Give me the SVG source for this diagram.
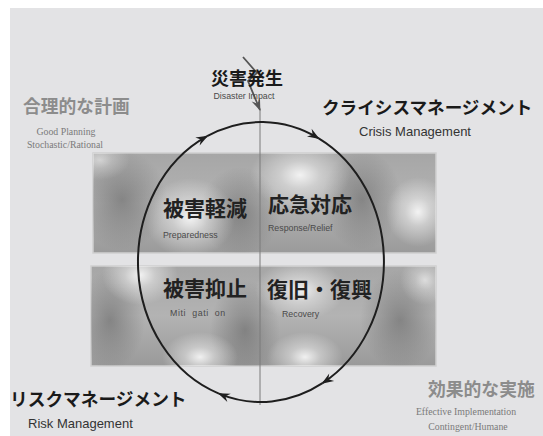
<svg xmlns="http://www.w3.org/2000/svg" width="543" height="436" viewBox="0 0 543 436">
<defs>
<style>
.jp{font-family:"Noto Sans CJK JP","Noto Sans",sans-serif;font-weight:bold;}
.jpg{font-family:"Noto Sans CJK JP","Noto Sans",sans-serif;font-weight:bold;fill:#8c8c8c;}
.en{font-family:"Liberation Sans","DejaVu Sans",sans-serif;fill:#333;}
.ens{font-family:"Liberation Sans","DejaVu Sans",sans-serif;fill:#4a4a4a;font-size:8.8px;}
.ser{font-family:"Liberation Serif","DejaVu Serif",serif;fill:#7a7a7a;font-size:9.8px;}
.cyc{fill:none;stroke:#1e1e1e;stroke-width:2;marker-end:url(#ah);}
.box{stroke:#d0d0d0;stroke-width:1.5;}
</style>
<marker id="ah" viewBox="-12 -5 13 10" refX="0" refY="0" markerWidth="13" markerHeight="10" markerUnits="userSpaceOnUse" orient="auto">
<path d="M1,0 L-11,-4.5 L-7,0 L-11,4.5 z" fill="#1e1e1e"/>
</marker>
<marker id="ah2" viewBox="-12 -5 13 10" refX="0" refY="0" markerWidth="13" markerHeight="10" markerUnits="userSpaceOnUse" orient="auto">
<path d="M1,0 L-11,-4.5 L-7,0 L-11,4.5 z" fill="#555"/>
</marker>
<radialGradient id="hl">
<stop offset="0" stop-color="#ffffff" stop-opacity="0.85"/>
<stop offset="0.4" stop-color="#ffffff" stop-opacity="0.4"/>
<stop offset="1" stop-color="#ffffff" stop-opacity="0"/>
</radialGradient>
<radialGradient id="dk">
<stop offset="0" stop-color="#606060" stop-opacity="0.55"/>
<stop offset="1" stop-color="#606060" stop-opacity="0"/>
</radialGradient>
<linearGradient id="base" x1="0" y1="0" x2="0" y2="1">
<stop offset="0" stop-color="#a6a6a6"/>
<stop offset="0.5" stop-color="#b3b3b3"/>
<stop offset="1" stop-color="#9a9a9a"/>
</linearGradient>
<clipPath id="c1"><rect x="93" y="153" width="343" height="100"/></clipPath>
<clipPath id="c2"><rect x="91" y="266" width="345" height="100"/></clipPath>
</defs>
<rect x="0" y="0" width="543" height="436" fill="#ffffff"/>
<rect x="10" y="8" width="533" height="428" fill="#e3e3e5"/>

<g id="box-upper">
<rect class="box" x="93" y="153" width="343" height="100" fill="url(#base)"/>
<g clip-path="url(#c1)">
<ellipse cx="122" cy="200" rx="45" ry="50" fill="url(#dk)"/>
<ellipse cx="240" cy="212" rx="40" ry="45" fill="url(#dk)"/>
<ellipse cx="362" cy="200" rx="40" ry="50" fill="url(#dk)"/>
<ellipse cx="190" cy="218" rx="45" ry="40" fill="url(#hl)"/>
<ellipse cx="300" cy="175" rx="50" ry="35" fill="url(#hl)"/>
<ellipse cx="418" cy="212" rx="32" ry="35" fill="url(#hl)"/>
<ellipse cx="100" cy="160" rx="30" ry="20" fill="url(#hl)" opacity="0.6"/>
</g>
</g>
<g id="box-lower">
<rect class="box" x="91" y="266" width="345" height="100" fill="url(#base)"/>
<g clip-path="url(#c2)">
<ellipse cx="110" cy="320" rx="35" ry="50" fill="url(#dk)"/>
<ellipse cx="245" cy="330" rx="35" ry="50" fill="url(#dk)"/>
<ellipse cx="400" cy="320" rx="40" ry="50" fill="url(#dk)"/>
<ellipse cx="140" cy="275" rx="38" ry="30" fill="url(#hl)"/>
<ellipse cx="200" cy="357" rx="38" ry="25" fill="url(#hl)"/>
<ellipse cx="305" cy="357" rx="38" ry="25" fill="url(#hl)"/>
<ellipse cx="300" cy="290" rx="45" ry="30" fill="url(#hl)"/>
<ellipse cx="425" cy="280" rx="25" ry="25" fill="url(#hl)" opacity="0.7"/>
</g>
</g>

<g id="connectors">
<line x1="260" y1="110" x2="260" y2="405" stroke="#7a7a7a" stroke-width="1"/>
<polyline points="243,57 257,73 248,81 260,110" fill="none" stroke="#555" stroke-width="1.8" marker-end="url(#ah2)"/>
<path class="cyc" d="M218.9,393.6 A123,140 0 0 1 207.1,136.2"/>
<path class="cyc" d="M207.1,136.2 A123,140 0 0 1 318.7,138.4"/>
<path class="cyc" d="M318.7,138.4 A123,140 0 0 1 322.5,383.2"/>
<path class="cyc" d="M322.5,383.2 A123,140 0 0 1 218.9,393.6"/>
</g>

<g id="disaster">
<text class="jp" x="247" y="85" font-size="18" text-anchor="middle" fill="#1a1a1a">災害発生</text>
<text class="ens" x="244" y="99" text-anchor="middle" font-size="8.5">Disaster Impact</text>
</g>
<g id="good-planning">
<text class="jpg" x="23" y="113" font-size="17.8">合理的な計画</text>
<text class="ser" x="66" y="135" text-anchor="middle">Good Planning</text>
<text class="ser" x="65" y="148" text-anchor="middle">Stochastic/Rational</text>
</g>
<g id="crisis">
<text class="jp" x="322" y="114" font-size="17.6" fill="#1a1a1a">クライシスマネージメント</text>
<text class="en" x="415" y="136" text-anchor="middle" font-size="13">Crisis Management</text>
</g>
<g id="preparedness">
<text class="jp" x="163" y="216" font-size="21" fill="#222">被害軽減</text>
<text class="ens" x="163" y="238">Preparedness</text>
</g>
<g id="response">
<text class="jp" x="268" y="212" font-size="21" fill="#222">応急対応</text>
<text class="ens" x="268" y="231">Response/Relief</text>
</g>
<g id="mitigation">
<text class="jp" x="163" y="296" font-size="21" fill="#222">被害抑止</text>
<text class="ens" x="170" y="316" xml:space="preserve" letter-spacing="0.6">Miti  gati  on</text>
</g>
<g id="recovery">
<text class="jp" x="267" y="297" font-size="21" fill="#222">復旧・復興</text>
<text class="ens" x="282" y="317">Recovery</text>
</g>
<g id="risk">
<text class="jp" x="10" y="406" font-size="17.7" fill="#1a1a1a">リスクマネージメント</text>
<text class="en" x="28" y="428" font-size="13">Risk Management</text>
</g>
<g id="effective">
<text class="jpg" x="428" y="396" font-size="17.8">効果的な実施</text>
<text class="ser" x="466" y="415" text-anchor="middle">Effective Implementation</text>
<text class="ser" x="468" y="430" text-anchor="middle">Contingent/Humane</text>
</g>
</svg>
